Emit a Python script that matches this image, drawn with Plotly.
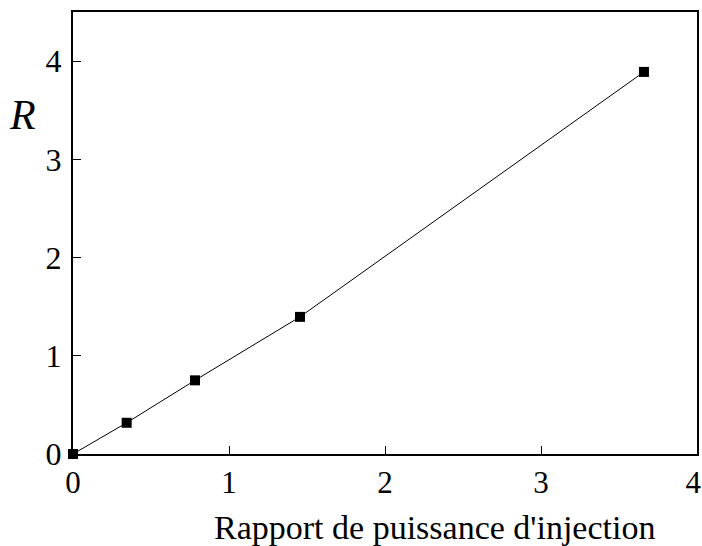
import plotly.graph_objects as go

x_vals = [0.0, 0.344, 0.782, 1.455, 3.66]
r_vals = [0.0, 0.318, 0.75, 1.396, 3.89]
x_ticks = [0, 1, 2, 3, 4]
x_tick_labels = ["0", "1", "2", "3", "4\u00a0"]
y_ticks = [0, 1, 2, 3, 4]
x_title = "Rapport de puissance d'injection"
y_title = "R"

font = "Liberation Serif"

fig = go.Figure()
fig.add_trace(go.Scatter(
    x=x_vals, y=r_vals, mode="lines+markers",
    line=dict(color="black", width=1),
    marker=dict(symbol="square", size=10, color="black"),
    cliponaxis=False, showlegend=False,
))

fig.update_layout(
    width=702, height=546,
    margin=dict(l=73, r=5, t=12, b=92, autoexpand=False),
    plot_bgcolor="white", paper_bgcolor="white",
    font=dict(family=font, size=31, color="black"),
    xaxis=dict(range=[0, 4], tickvals=x_ticks, ticktext=x_tick_labels,
               ticks="inside", ticklen=8,
               tickwidth=1, tickcolor="black", showgrid=False, zeroline=False,
               showline=True, linecolor="black", linewidth=2, mirror=True,
               ticklabelstandoff=0, automargin=False, ticklabeloverflow="allow",
               tickfont=dict(family=font, size=31)),
    yaxis=dict(range=[0, 4.5], tickvals=y_ticks, ticks="inside", ticklen=8,
               tickwidth=1, tickcolor="black", showgrid=False, zeroline=False,
               showline=True, linecolor="black", linewidth=2, mirror=True,
               ticklabelstandoff=3, automargin=False, ticklabeloverflow="allow",
               tickfont=dict(family=font, size=32)),
    annotations=[
        dict(text=x_title, xref="paper", yref="paper", x=(434 - 73) / 624,
             y=-(548 - 454) / 442, xanchor="center", yanchor="bottom",
             showarrow=False, font=dict(family=font, size=34)),
        dict(text="<i>" + y_title + "</i>", xref="paper", yref="paper",
             x=-(73 - 23) / 624, y=(454 - 115) / 442, xanchor="center",
             yanchor="middle", showarrow=False, font=dict(family=font, size=42)),
    ],
)

fig.write_html(
    "out.html",
    config={"displayModeBar": False},
    post_script="document.body.style.margin='0';document.documentElement.style.overflow='hidden';",
)
